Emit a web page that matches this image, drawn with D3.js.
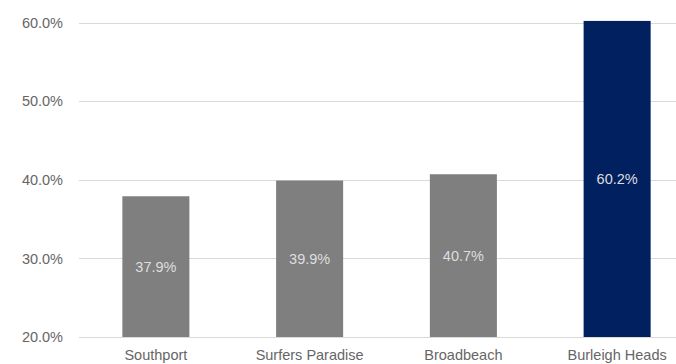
<!DOCTYPE html>
<html>
<head>
<meta charset="utf-8">
<script src="https://cdn.jsdelivr.net/npm/d3@7"></script>
<style>
  html, body { margin: 0; padding: 0; background: #fff; }
  svg { display: block; }
  text { font-family: "Liberation Sans", Arial, Helvetica, sans-serif; }
</style>
</head>
<body>
<svg id="chart" width="676" height="364"></svg>
<script>
// Share by precinct
const categories = ["Southport", "Surfers Paradise", "Broadbeach", "Burleigh Heads"];
const values = [37.9, 39.9, 40.7, 60.2];
const highlight = ["Burleigh Heads"];
const yTicks = [20, 30, 40, 50, 60];

const W = 676, H = 364;
const svg = d3.select("#chart");

const y = d3.scaleLinear().domain([20, 60]).range([337, 22.5]);
const x = d3.scaleBand()
  .domain(categories)
  .range([79, 694])
  .paddingInner(0.564)
  .paddingOuter(0.282);

// horizontal gridlines
svg.append("g")
  .selectAll("line")
  .data(yTicks)
  .join("line")
  .attr("x1", 79)
  .attr("x2", W)
  .attr("y1", d => Math.round(y(d)) + 0.5)
  .attr("y2", d => Math.round(y(d)) + 0.5)
  .attr("stroke", "#d9d9d9")
  .attr("stroke-width", 1);

// y axis labels
const yAxis = d3.axisLeft(y)
  .tickValues(yTicks)
  .tickSize(0)
  .tickPadding(0)
  .tickFormat(d => d.toFixed(1) + "%");
svg.append("g")
  .attr("transform", "translate(63,0)")
  .call(yAxis)
  .call(g => g.select(".domain").remove())
  .call(g => g.selectAll("text")
    .attr("fill", "#666666")
    .attr("font-size", 14.5)
    .attr("font-family", "Liberation Sans, Arial, sans-serif"));

// bars
const data = categories.map((c, i) => ({ cat: c, val: values[i] }));
svg.append("g")
  .selectAll("rect")
  .data(data)
  .join("rect")
  .attr("x", d => x(d.cat))
  .attr("width", x.bandwidth())
  .attr("y", d => y(d.val))
  .attr("height", d => y(20) - y(d.val))
  .attr("fill", d => highlight.includes(d.cat) ? "#002060" : "#7f7f7f");

// value labels, centred in each bar
svg.append("g")
  .selectAll("text")
  .data(data)
  .join("text")
  .attr("x", d => x(d.cat) + x.bandwidth() / 2)
  .attr("y", d => (y(d.val) + y(20)) / 2)
  .attr("dy", "0.35em")
  .attr("text-anchor", "middle")
  .attr("fill", "#dedede")
  .attr("font-size", 14.5)
  .text(d => d.val.toFixed(1) + "%");

// category axis
const xAxis = d3.axisBottom(x).tickSize(0).tickPadding(0);
svg.append("g")
  .attr("transform", "translate(0,350)")
  .call(xAxis)
  .call(g => g.select(".domain").remove())
  .call(g => g.selectAll("text")
    .attr("fill", "#666666")
    .attr("font-size", 14.5)
    .attr("font-family", "Liberation Sans, Arial, sans-serif")
    .attr("dy", "0.35em")
    .attr("y", 5));
</script>
</body>
</html>
